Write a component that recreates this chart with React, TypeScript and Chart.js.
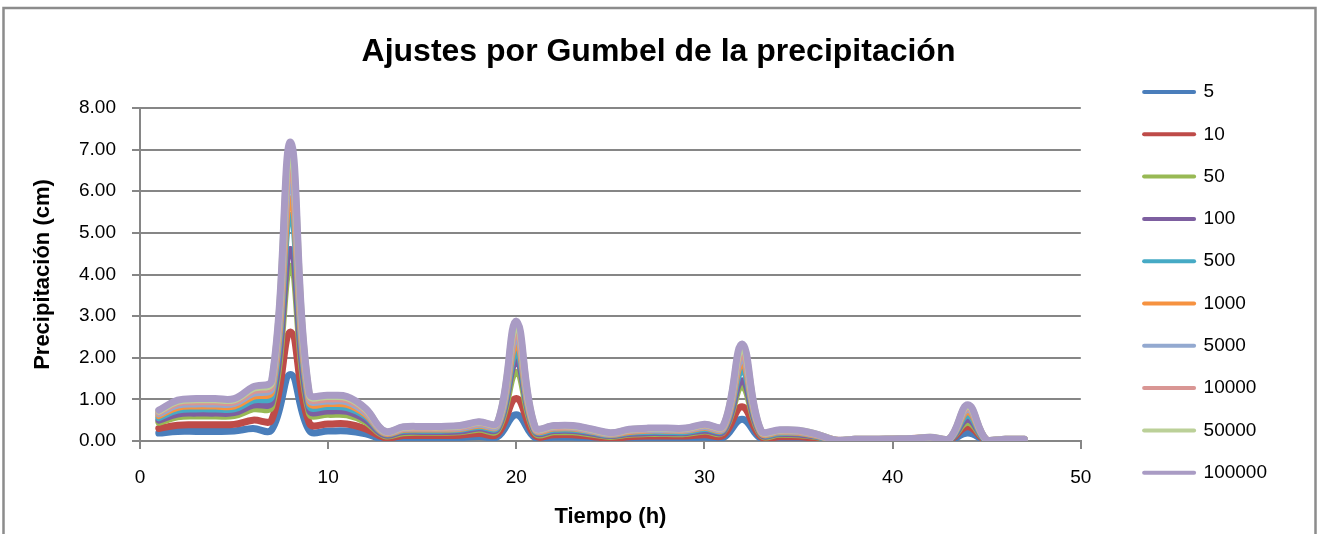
import { useEffect, useRef } from 'react';
import { Chart, registerables } from 'chart.js';

Chart.register(...registerables);

const hours = [1, 2, 3, 4, 5, 6, 7, 8, 9, 10, 11, 12, 13, 14, 15, 16, 17, 18, 19, 20, 21, 22, 23, 24, 25, 26, 27, 28, 29, 30, 31, 32, 33, 34, 35, 36, 37, 38, 39, 40, 41, 42, 43, 44, 45, 46, 47];

const returnPeriods = ['5', '10', '50', '100', '500', '1000', '5000', '10000', '50000', '100000'];

const seriesColors = ['#4A7EBB', '#BE4B48', '#98B954', '#7D5FA0', '#46AAC5', '#F69240', '#93A9D0', '#D99694', '#BBD098', '#A99BC4'];

const p5 = [0.19, 0.23, 0.23, 0.23, 0.24, 0.30, 0.27, 1.60, 0.25, 0.24, 0.24, 0.17, 0.04, 0.08, 0.08, 0.08, 0.08, 0.11, 0.10, 0.63, 0.08, 0.09, 0.09, 0.06, 0.03, 0.06, 0.07, 0.07, 0.07, 0.09, 0.08, 0.52, 0.06, 0.06, 0.06, 0.04, 0.00, 0.01, 0.01, 0.01, 0.01, 0.02, 0.01, 0.19, 0.00, 0.01, 0.01];
const p10 = [0.30, 0.38, 0.39, 0.39, 0.40, 0.50, 0.51, 2.62, 0.43, 0.41, 0.41, 0.29, 0.08, 0.13, 0.13, 0.13, 0.14, 0.18, 0.17, 1.02, 0.13, 0.15, 0.15, 0.11, 0.06, 0.10, 0.12, 0.12, 0.12, 0.15, 0.14, 0.82, 0.10, 0.10, 0.10, 0.06, 0.00, 0.02, 0.02, 0.02, 0.02, 0.03, 0.02, 0.34, 0.00, 0.02, 0.02];
const p50 = [0.45, 0.58, 0.60, 0.60, 0.61, 0.77, 0.83, 4.20, 0.67, 0.64, 0.63, 0.46, 0.13, 0.20, 0.21, 0.21, 0.22, 0.28, 0.26, 1.65, 0.20, 0.22, 0.22, 0.17, 0.11, 0.16, 0.18, 0.18, 0.18, 0.24, 0.22, 1.30, 0.15, 0.16, 0.15, 0.10, 0.01, 0.02, 0.02, 0.03, 0.03, 0.05, 0.03, 0.45, 0.01, 0.02, 0.02];
const p100 = [0.50, 0.65, 0.67, 0.67, 0.68, 0.86, 0.94, 4.60, 0.75, 0.72, 0.71, 0.51, 0.15, 0.23, 0.23, 0.23, 0.24, 0.31, 0.30, 1.90, 0.23, 0.25, 0.25, 0.19, 0.13, 0.18, 0.20, 0.20, 0.20, 0.26, 0.24, 1.45, 0.17, 0.18, 0.17, 0.11, 0.01, 0.03, 0.03, 0.03, 0.04, 0.06, 0.03, 0.52, 0.01, 0.03, 0.03];
const p500 = [0.56, 0.74, 0.77, 0.77, 0.77, 0.98, 1.08, 5.42, 0.86, 0.83, 0.80, 0.59, 0.18, 0.26, 0.26, 0.26, 0.28, 0.35, 0.34, 2.10, 0.26, 0.28, 0.28, 0.22, 0.15, 0.21, 0.23, 0.23, 0.23, 0.30, 0.28, 1.68, 0.20, 0.20, 0.20, 0.12, 0.01, 0.03, 0.03, 0.04, 0.04, 0.07, 0.04, 0.62, 0.01, 0.03, 0.03];
const p1000 = [0.61, 0.81, 0.84, 0.84, 0.84, 1.07, 1.19, 5.82, 0.94, 0.90, 0.88, 0.64, 0.19, 0.28, 0.29, 0.29, 0.30, 0.38, 0.37, 2.30, 0.28, 0.31, 0.31, 0.24, 0.16, 0.23, 0.26, 0.26, 0.26, 0.33, 0.30, 1.85, 0.21, 0.22, 0.21, 0.13, 0.02, 0.03, 0.03, 0.04, 0.05, 0.07, 0.04, 0.70, 0.02, 0.03, 0.03];
const p5000 = [0.65, 0.86, 0.89, 0.89, 0.90, 1.14, 1.27, 6.25, 1.01, 0.96, 0.94, 0.68, 0.21, 0.30, 0.31, 0.31, 0.32, 0.40, 0.39, 2.45, 0.30, 0.33, 0.33, 0.25, 0.17, 0.25, 0.27, 0.27, 0.27, 0.35, 0.32, 1.97, 0.23, 0.24, 0.23, 0.14, 0.02, 0.04, 0.04, 0.04, 0.05, 0.08, 0.04, 0.76, 0.02, 0.04, 0.04];
const p10000 = [0.69, 0.91, 0.94, 0.94, 0.94, 1.20, 1.34, 6.58, 1.06, 1.01, 0.99, 0.72, 0.22, 0.31, 0.32, 0.32, 0.34, 0.43, 0.42, 2.58, 0.31, 0.34, 0.34, 0.27, 0.18, 0.26, 0.29, 0.29, 0.29, 0.37, 0.34, 2.08, 0.24, 0.25, 0.24, 0.15, 0.02, 0.04, 0.04, 0.05, 0.06, 0.08, 0.05, 0.80, 0.02, 0.04, 0.04];
const p50000 = [0.72, 0.95, 0.99, 0.99, 0.99, 1.26, 1.41, 6.92, 1.11, 1.07, 1.04, 0.76, 0.23, 0.33, 0.34, 0.34, 0.36, 0.45, 0.44, 2.75, 0.33, 0.36, 0.36, 0.28, 0.19, 0.27, 0.30, 0.30, 0.30, 0.39, 0.36, 2.22, 0.25, 0.26, 0.25, 0.16, 0.02, 0.04, 0.04, 0.05, 0.06, 0.09, 0.05, 0.84, 0.02, 0.04, 0.04];
const p100000 = [0.74, 0.98, 1.02, 1.02, 1.02, 1.30, 1.46, 7.18, 1.15, 1.10, 1.07, 0.78, 0.24, 0.34, 0.35, 0.35, 0.37, 0.46, 0.45, 2.88, 0.34, 0.37, 0.37, 0.29, 0.20, 0.28, 0.31, 0.31, 0.31, 0.40, 0.37, 2.33, 0.26, 0.27, 0.26, 0.16, 0.02, 0.04, 0.04, 0.05, 0.06, 0.09, 0.05, 0.87, 0.02, 0.04, 0.04];

const allSeries = [p5, p10, p50, p100, p500, p1000, p5000, p10000, p50000, p100000];

const FONT = "'Liberation Sans', Arial, sans-serif";
const GRAY = '#868686';

const framePlugin = {
  id: 'frame',
  beforeDraw(chart: any) {
    const ctx = chart.ctx;
    ctx.save();
    ctx.fillStyle = '#ffffff';
    ctx.fillRect(0, 0, chart.width, chart.height);
    ctx.strokeStyle = '#8c8c8c';
    ctx.lineWidth = 2.5;
    ctx.beginPath();
    ctx.moveTo(3.5, chart.height + 5);
    ctx.lineTo(3.5, 8);
    ctx.lineTo(1315.5, 8);
    ctx.lineTo(1315.5, chart.height + 5);
    ctx.stroke();
    ctx.restore();
  },
};

export default function App() {
  const ref = useRef<HTMLCanvasElement>(null);

  useEffect(() => {
    if (!ref.current) return;
    Chart.defaults.font.family = FONT;
    Chart.defaults.color = '#000';

    const datasets = allSeries.map((vals, i) => ({
      label: returnPeriods[i],
      data: hours.map((h, j) => ({ x: h, y: vals[j] })),
      borderColor: seriesColors[i],
      backgroundColor: seriesColors[i],
      borderWidth: 7,
      pointRadius: 0,
      pointHoverRadius: 0,
      tension: 0.4,
      borderCapStyle: 'round' as const,
      borderJoinStyle: 'round' as const,
      order: allSeries.length - i,
    }));

    const chart = new Chart(ref.current, {
      type: 'line',
      data: { datasets },
      options: {
        responsive: false,
        animation: false,
        devicePixelRatio: 1,
        layout: { padding: { top: 30.7, bottom: 0, left: 40, right: 40 } },
        plugins: {
          title: {
            display: true,
            text: 'Ajustes por Gumbel de la precipitación',
            color: '#000',
            font: { family: FONT, size: 32, weight: 'bold' },
            padding: { top: 2.1, bottom: 36.8 },
          },
          legend: {
            position: 'right',
            align: 'center',
            labels: {
              usePointStyle: true,
              pointStyle: 'line',
              pointStyleWidth: 50,
              padding: 23.3,
              color: '#000',
              font: { family: FONT, size: 19 },
              generateLabels: (c: any) =>
                (Chart.defaults.plugins.legend.labels as any)
                  .generateLabels(c)
                  .map((l: any) => ({ ...l, lineWidth: 4, lineCap: 'round' })),
              sort: (a: any, b: any) => a.datasetIndex - b.datasetIndex,
            },
          },
          tooltip: { enabled: false },
        },
        scales: {
          x: {
            type: 'linear',
            position: 'bottom',
            min: 0,
            max: 50,
            ticks: { stepSize: 10, color: '#000', font: { family: FONT, size: 19 }, padding: 17.6, maxRotation: 0 },
            grid: { drawOnChartArea: false, drawTicks: true, tickLength: 8, color: GRAY, lineWidth: 2 },
            border: { color: GRAY, width: 2 },
            title: {
              display: true,
              text: 'Tiempo (h)',
              color: '#000',
              font: { family: FONT, size: 22, weight: 'bold' },
              padding: { top: 0, bottom: 3.8 },
            },
            afterFit: (s: any) => { s.height = 93; },
          },
          y: {
            type: 'linear',
            position: 'left',
            min: 0,
            max: 8,
            ticks: {
              stepSize: 1,
              color: '#000',
              font: { family: FONT, size: 19 },
              padding: 16,
              callback: (v: any) => Number(v).toFixed(2),
            },
            grid: { color: GRAY, lineWidth: 2, tickLength: 8 },
            border: { color: GRAY, width: 2 },
            title: {
              display: true,
              text: 'Precipitación (cm)',
              color: '#000',
              font: { family: FONT, size: 22, weight: 'bold' },
              padding: { top: -10.2, bottom: 0 },
            },
            afterFit: (s: any) => { s.width = 100; },
          },
          yPad: {
            type: 'linear',
            position: 'right',
            display: true,
            ticks: { display: false },
            grid: { display: false },
            border: { display: false },
            afterFit: (s: any) => { s.width = 40; },
          },
        },
      } as any,
      plugins: [framePlugin],
    });

    return () => chart.destroy();
  }, []);

  return (
    <div style={{ position: 'absolute', left: 0, top: 0, width: 1317, height: 534 }}>
      <canvas ref={ref} width={1317} height={534} style={{ display: 'block', width: 1317, height: 534 }} />
    </div>
  );
}
